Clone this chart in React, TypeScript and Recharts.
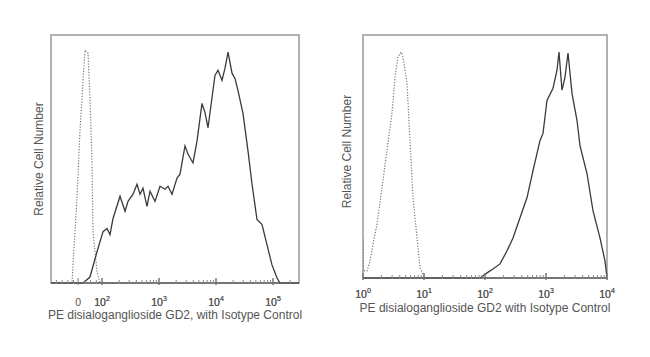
import { LineChart, Line, XAxis, YAxis, ReferenceArea } from "recharts"

// x values are in decades on the display axis (10^2 -> 2), y is % of max
const leftSolidX = [1.105, 1.667, 1.789, 1.912, 2.018, 2.088, 2.14, 2.193, 2.316, 2.404, 2.456, 2.544, 2.614, 2.667, 2.719, 2.789, 2.842, 2.93, 3.018, 3.105, 3.158, 3.228, 3.316, 3.368, 3.456, 3.509, 3.596, 3.667, 3.754, 3.807, 3.86, 3.93, 3.982, 4.035, 4.105, 4.158, 4.211, 4.281, 4.333, 4.386, 4.474, 4.561, 4.632, 4.719, 4.807, 4.895, 4.982, 5.07, 5.123, 5.456]
const leftSolidY = [0, 0, 2.4, 12.6, 20.7, 22, 19.5, 26, 35, 28.9, 32.9, 35.8, 39.8, 35.8, 38.2, 30.9, 37, 32.9, 39, 37.8, 39, 35.8, 42.3, 43.9, 55.3, 52, 48.4, 57.3, 72.4, 68.7, 62.6, 74.8, 83.7, 85.8, 81.7, 86.6, 93.1, 84.6, 82.5, 77.6, 68.3, 53.3, 39.8, 25.6, 23.6, 15.4, 7.3, 2, 0, 0]
const leftIsoX = [1.105, 1.474, 1.491, 1.561, 1.614, 1.667, 1.702, 1.754, 1.789, 1.825, 1.842, 1.912, 1.965, 5.456]
const leftIsoY = [0, 0, 7.3, 34.1, 61.4, 81.7, 93.9, 92.7, 74.8, 48, 20.7, 4.5, 0, 0]

const rightSolidX = [0, 1.918, 2.033, 2.131, 2.246, 2.361, 2.459, 2.574, 2.689, 2.787, 2.902, 2.951, 3.016, 3.115, 3.18, 3.213, 3.262, 3.311, 3.361, 3.426, 3.508, 3.557, 3.672, 3.77, 3.885, 3.967, 4]
const rightSolidY = [0, 0, 2.1, 3.7, 5.8, 11.2, 16.5, 24.8, 33.1, 44.2, 56.6, 59.5, 73.1, 78.1, 85.5, 93, 77.3, 82.6, 92.6, 76, 64.9, 54.5, 43, 27.7, 16.5, 7, 0]
const rightIsoX = [0, 0.005, 0.066, 0.115, 0.164, 0.23, 0.311, 0.393, 0.475, 0.525, 0.574, 0.623, 0.656, 0.721, 0.77, 0.82, 0.885, 0.934, 1.016, 4]
const rightIsoY = [16.5, 2.9, 2.9, 7, 14, 22.3, 37.2, 52.5, 67.8, 82.6, 90.9, 93, 90.9, 80.2, 56.6, 33.1, 16.5, 4.1, 0, 0]

const leftTicks = [1.58, 2, 3, 4, 5]
const leftTickLabels = ["0", "10^2", "10^3", "10^4", "10^5"]
const rightTicks = [0, 1, 2, 3, 4]
const rightTickLabels = ["10^0", "10^1", "10^2", "10^3", "10^4"]

const leftTitle = "PE disialoganglioside GD2, with Isotype Control"
const rightTitle = "PE disialoganglioside GD2 with Isotype Control"
const yTitle = "Relative Cell Number"

const pts = (xs: number[], ys: number[]) => xs.map((x, i) => ({ x, y: ys[i] }))

function minorTicks(from: number, to: number) {
  const out: number[] = []
  for (let d = from; d < to; d++) {
    for (let k = 1; k < 10; k++) out.push(d + Math.log10(k))
  }
  out.push(to)
  return out
}

const textColor = "#555"
const font = "'Liberation Sans', Arial, sans-serif"

function makeTick(majors: number[], labels: string[], dy: number) {
  return (props: any) => {
    const { x, y, payload } = props
    const i = majors.findIndex((m) => Math.abs(m - payload.value) < 1e-6)
    if (i < 0) {
      return <line x1={x} x2={x} y1={y - 3} y2={y + 1} stroke="#888" />
    }
    const [base, exp] = labels[i].split("^")
    return (
      <g>
        <line x1={x} x2={x} y1={y - 5} y2={y + 2} stroke="#777" />
        <text x={x} y={y + dy} textAnchor="middle" fontSize={10.5} fill={textColor} fontFamily={font}>
          {base}
          {exp && (
            <tspan dy={-5} fontSize={7}>
              {exp}
            </tspan>
          )}
        </text>
      </g>
    )
  }
}

type HistProps = {
  width: number
  margin: { top: number; right: number; bottom: number; left: number }
  domain: [number, number]
  solid: { x: number; y: number }[]
  iso: { x: number; y: number }[]
  majors: number[]
  labels: string[]
  minors: number[]
  title: string
  tickDy: number
  titleDy: number
  yLabelDx: number
  yLabelDy: number
}

function Histogram(p: HistProps) {
  const ticks = [...p.minors.filter((m) => m >= p.domain[0] && m <= p.domain[1]), ...p.majors]
  const plotH = 357 - p.margin.top - p.margin.bottom - 40
  return (
    <LineChart width={p.width} height={357} margin={p.margin}>
      <XAxis
        type="number"
        dataKey="x"
        domain={p.domain}
        allowDataOverflow
        ticks={ticks}
        interval={0}
        tickSize={0}
        tickMargin={0}
        tickLine={false}
        height={40}
        axisLine={{ stroke: "#666", strokeWidth: 1.5 }}
        tick={makeTick(p.majors, p.labels, p.tickDy)}
        label={(lp: any) => {
          const vb = lp.viewBox
          const cx = vb.x + p.yLabelDx
          const cy = vb.y - plotH / 2 + p.yLabelDy
          return (
            <g>
              <text x={vb.x + vb.width / 2} y={vb.y + p.titleDy} textAnchor="middle" fontSize={12} fill={textColor} fontFamily={font}>
                {p.title}
              </text>
              <text x={cx} y={cy} textAnchor="middle" dominantBaseline="central" fontSize={12} fill={textColor} fontFamily={font} transform={`rotate(-90 ${cx} ${cy})`}>
                {yTitle}
              </text>
            </g>
          )
        }}
      />
      <YAxis type="number" domain={[0, 100]} width={0} tick={false} axisLine={false} />
      <ReferenceArea x1={p.domain[0]} x2={p.domain[1]} y1={0} y2={100} fill="none" fillOpacity={0} stroke="#999" strokeWidth={1.5} ifOverflow="visible" />
      <Line data={p.iso} dataKey="y" type="linear" stroke="#777" strokeWidth={1.2} strokeDasharray="1.2 1.6" dot={false} isAnimationActive={false} />
      <Line data={p.solid} dataKey="y" type="linear" stroke="#3a3a3a" strokeWidth={1.3} dot={false} isAnimationActive={false} />
    </LineChart>
  )
}

export default function App() {
  return (
    <div style={{ position: "absolute", left: 0, top: 0, width: 650, height: 357, background: "#fff" }}>
      <div style={{ position: "absolute", left: 0, top: 0 }}>
        <Histogram
          width={325}
          margin={{ top: 35, right: 26, bottom: 34, left: 51 }}
          domain={[1.105, 5.456]}
          solid={pts(leftSolidX, leftSolidY)}
          iso={pts(leftIsoX, leftIsoY)}
          majors={leftTicks}
          labels={leftTickLabels}
          minors={[1.2, 1.3, 1.4, 1.5, 1.7, 1.8, 1.9, ...minorTicks(2, 5), 5.3]}
          title={leftTitle}
          tickDy={23}
          titleDy={36}
          yLabelDx={-12}
          yLabelDy={0}
        />
      </div>
      <div style={{ position: "absolute", left: 325, top: 0 }}>
        <Histogram
          width={325}
          margin={{ top: 35, right: 43, bottom: 39, left: 38 }}
          domain={[0, 4]}
          solid={pts(rightSolidX, rightSolidY)}
          iso={pts(rightIsoX, rightIsoY)}
          majors={rightTicks}
          labels={rightTickLabels}
          minors={minorTicks(0, 4)}
          title={rightTitle}
          tickDy={20}
          titleDy={34}
          yLabelDx={-16}
          yLabelDy={-5}
        />
      </div>
    </div>
  )
}
